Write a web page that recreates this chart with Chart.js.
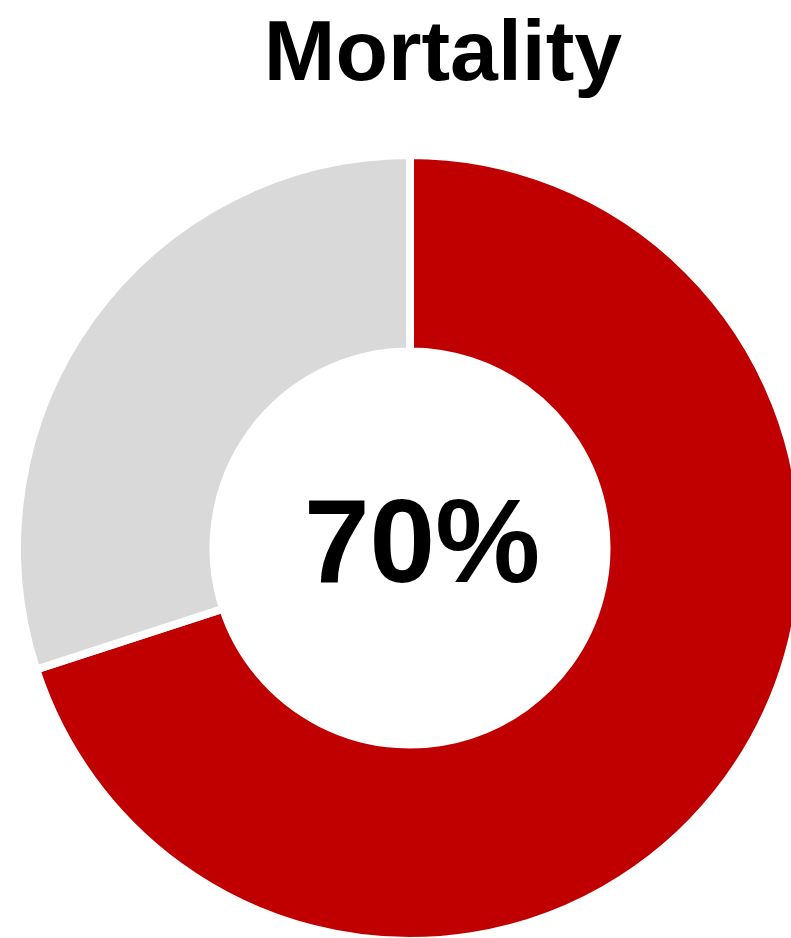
<!DOCTYPE html>
<html>
<head>
<meta charset="utf-8">
<script src="https://cdn.jsdelivr.net/npm/chart.js@4/dist/chart.umd.min.js"></script>
<style>
  html, body { margin: 0; padding: 0; background: #fff; overflow: hidden; width: 791px; height: 938px; }
  #wrap { position: relative; width: 820px; height: 938px; }
  #chart { position: absolute; left: 0; top: 0; }
  .lbl { position: absolute; font-family: "Liberation Sans", Arial, sans-serif; font-weight: bold; color: #000; white-space: nowrap; transform: translateX(-50%); }
  #title { left: 443px; top: 7px; font-size: 86px; line-height: 86px; }
  #center { left: 422px; top: 482px; font-size: 118px; line-height: 118px; }
</style>
</head>
<body>
<div id="wrap">
  <canvas id="chart" width="820" height="938"></canvas>
  <div id="title" class="lbl">Mortality</div>
  <div id="center" class="lbl">70%</div>
</div>
<script>
// values
const labels = ['Mortality', 'Survival'];
const values = [70, 30];
const colors = ['#C00000', '#D9D9D9'];
const centerLabel = values[0] + '%';

document.getElementById('center').textContent = centerLabel;

const ctx = document.getElementById('chart');
const chart = new Chart(ctx, {
  type: 'doughnut',
  data: {
    labels: labels,
    datasets: [{
      data: values,
      backgroundColor: colors,
      borderColor: '#ffffff',
      borderWidth: 8,
      clip: false
    }]
  },
  options: {
    responsive: false,
    animation: false,
    radius: 393,
    cutout: '50%',
    layout: { padding: { top: 158, left: 20, right: 20, bottom: 0 } },
    plugins: {
      legend: { display: false },
      tooltip: { enabled: false },
      title: { display: false }
    }
  }
});
</script>
</body>
</html>
